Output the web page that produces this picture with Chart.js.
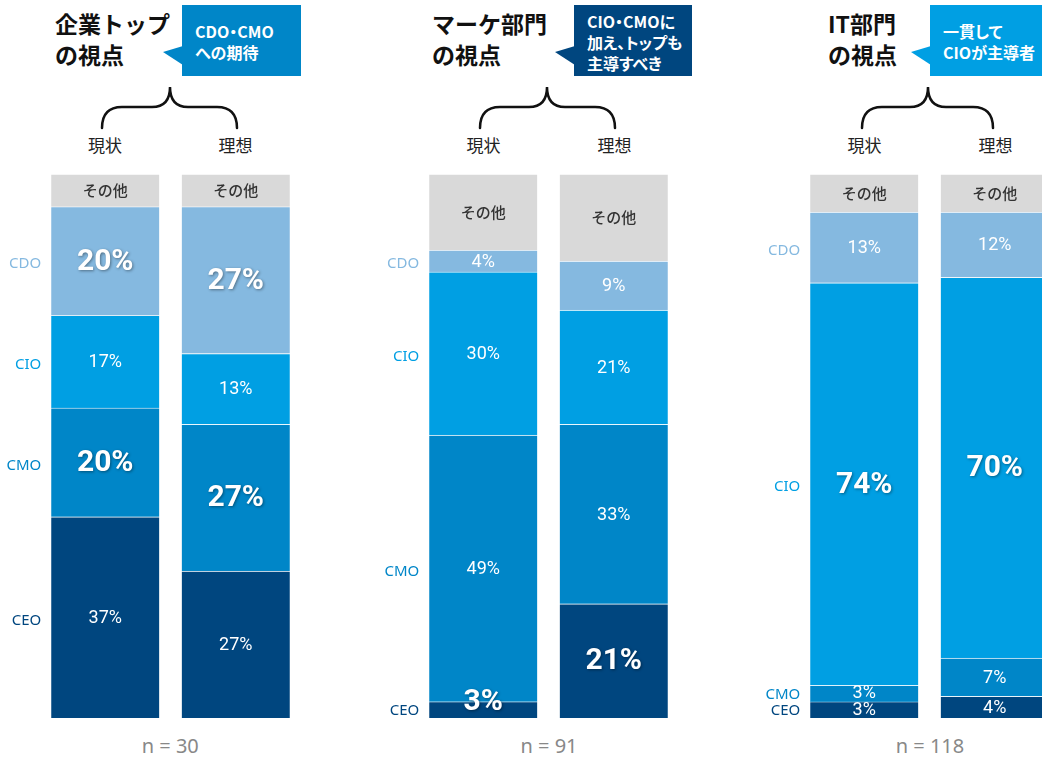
<!DOCTYPE html>
<html lang="ja">
<head>
<meta charset="utf-8">
<script src="https://cdn.jsdelivr.net/npm/chart.js@4.4.1/dist/chart.umd.min.js"></script>
<style>
  html, body { margin: 0; padding: 0; }
  body {
    width: 1042px; height: 758px; position: relative; overflow: hidden; background: #fff;
    font-family: "Noto Sans CJK JP", "Noto Sans", sans-serif;
  }
  .title { position: absolute; top: 8px; font-size: 23px; font-weight: 700; line-height: 31px; color: #111; }
  .callout {
    position: absolute; top: 5px; height: 71px; box-sizing: border-box; padding: 3px 0 0 13px;
    display: flex; flex-direction: column; justify-content: center;
    color: #fff; font-size: 16px; font-weight: 700; line-height: 21px;
    font-feature-settings: "palt";
  }
  .state { position: absolute; top: 133px; width: 80px; margin-left: -40px; text-align: center; font-size: 17px; line-height: 24px; color: #222; }
  .n { position: absolute; top: 733px; width: 120px; margin-left: -60px; text-align: center; font-family: "Noto Sans", sans-serif; font-size: 20px; line-height: 26px; color: #888; }
  .chart-box { position: absolute; top: 174px; width: 301px; height: 544px; }
  svg { position: absolute; left: 0; top: 0; }
</style>
</head>
<body>
<svg width="1042" height="758">
  <g fill="none" stroke="#111" stroke-width="2.5" stroke-linecap="round">
    <path d="M102,128 Q102,107 122,107 L152,107 Q170,107 170,87 Q170,107 188,107 L217,107 Q237,107 237,128"/>
    <path d="M480,128 Q480,107 500,107 L529,107 Q547,107 547,87 Q547,107 565,107 L595,107 Q615,107 615,128"/>
    <path d="M862,128 Q862,107 882,107 L910,107 Q928,107 928,87 Q928,107 946,107 L973,107 Q993,107 993,128"/>
  </g>
  <polygon points="163,52 183,46 183,65" fill="#0086c8"/>
  <polygon points="555,52 575,46 575,65" fill="#00467f"/>
  <polygon points="911,52 931,46 931,65" fill="#009fe3"/>
</svg>

<div class="title" style="left:55px">企業トップ<br>の視点</div>
<div class="callout" style="left:182px; width:119px; background:#0086c8">CDO・CMO<br>への期待</div>
<div class="title" style="left:432px">マーケ部門<br>の視点</div>
<div class="callout" style="left:574px; width:118px; background:#00467f">CIO・CMOに<br>加え、トップも<br>主導すべき</div>
<div class="title" style="left:828px">IT部門<br>の視点</div>
<div class="callout" style="left:930px; width:125px; background:#009fe3">一貫して<br>CIOが主導者</div>

<div id="states"></div>
<div class="chart-box" style="left:-0.25px"><canvas id="chart0"></canvas></div>
<div class="chart-box" style="left:378.25px"><canvas id="chart1"></canvas></div>
<div class="chart-box" style="left:759.25px"><canvas id="chart2"></canvas></div>
<div id="samples"></div>

<script>
const stateLabels = ["現状", "理想"];
const seriesNames = ["CEO", "CMO", "CIO", "CDO", "その他"];
// two bars per group: 企業トップ, マーケ部門, IT部門
const ceoValues = [37, 27, 3, 21, 3, 4];
const cmoValues = [20, 27, 49, 33, 3, 7];
const cioValues = [17, 13, 30, 21, 74, 70];
const cdoValues = [20, 27, 4, 9, 13, 12];
const otherValues = [6, 6, 14, 16, 7, 7];
const sampleSizes = [30, 91, 118];
const boldLabels = [["CDO", "CMO"], ["CDO", "CMO"], ["CEO"], ["CEO"], ["CIO"], ["CIO"]];

const seriesValues = [ceoValues, cmoValues, cioValues, cdoValues, otherValues];
const seriesColors = ["#00467f", "#0086c8", "#009fe3", "#85b9e0", "#d9d9d9"];
const barCenters = [[105, 235.5], [483.5, 614.5], [864.5, 995.5]];

barCenters.forEach((centers, g) => {
  centers.forEach((cx, i) => {
    const el = document.createElement("div");
    el.className = "state";
    el.style.left = `${cx}px`;
    el.textContent = stateLabels[i];
    document.getElementById("states").appendChild(el);
  });
  const n = document.createElement("div");
  n.className = "n";
  n.style.left = `${(centers[0] + centers[1]) / 2}px`;
  n.textContent = `n = ${sampleSizes[g]}`;
  document.getElementById("samples").appendChild(n);
});

const makeLabels = (group) => ({
  id: "segmentLabels",
  afterDatasetsDraw(chart) {
    const { ctx } = chart;
    ctx.save();
    ctx.textBaseline = "middle";
    chart.data.datasets.forEach((ds, di) => {
      chart.getDatasetMeta(di).data.forEach((bar, bi) => {
        const name = ds.label;
        const mid = (bar.y + bar.base) / 2;
        ctx.textAlign = "center";
        if (name === "その他") {
          ctx.font = '500 15px "Noto Sans CJK JP"';
          ctx.fillStyle = "#333";
          ctx.fillText(name, bar.x, mid);
          return;
        }
        const bold = boldLabels[group * 2 + bi].includes(name);
        const y = Math.min(mid, bar.base - (bold ? 17 : 9));
        ctx.save();
        ctx.fillStyle = "#fff";
        if (bold) {
          ctx.font = 'bold 30px Roboto';
          ctx.shadowColor = "rgba(0, 0, 0, 0.4)";
          ctx.shadowBlur = 3;
          ctx.shadowOffsetX = 1;
          ctx.shadowOffsetY = 1;
        } else {
          ctx.font = '18px Roboto';
        }
        ctx.fillText(`${ds.data[bi]}%`, bar.x, y + 1);
        ctx.restore();

        if (bi === 0) {
          ctx.textAlign = "right";
          ctx.font = '15px "Noto Sans"';
          ctx.fillStyle = ds.backgroundColor;
          ctx.fillText(name, bar.x - bar.width / 2 - 10, Math.min(mid + 3, bar.base - 7));
        }
      });
    });
    ctx.restore();
  },
});

barCenters.forEach((_, g) => {
  new Chart(document.getElementById(`chart${g}`), {
    type: "bar",
    data: {
      labels: stateLabels,
      datasets: seriesNames.map((name, s) => ({
        label: name,
        data: seriesValues[s].slice(g * 2, g * 2 + 2),
        backgroundColor: seriesColors[s],
        borderColor: "rgba(255, 255, 255, 0.3)",
        borderWidth: { top: 1, left: 0, right: 0, bottom: 0 },
        borderSkipped: false,
        barThickness: 108,
      })),
    },
    options: {
      responsive: true,
      maintainAspectRatio: false,
      animation: false,
      events: [],
      layout: { padding: { left: 40 } },
      plugins: { legend: { display: false }, tooltip: { enabled: false } },
      scales: {
        x: { stacked: true, display: false },
        y: { stacked: true, display: false, min: 0, max: 100 },
      },
    },
    plugins: [makeLabels(g)],
  });
});
</script>
</body>
</html>
